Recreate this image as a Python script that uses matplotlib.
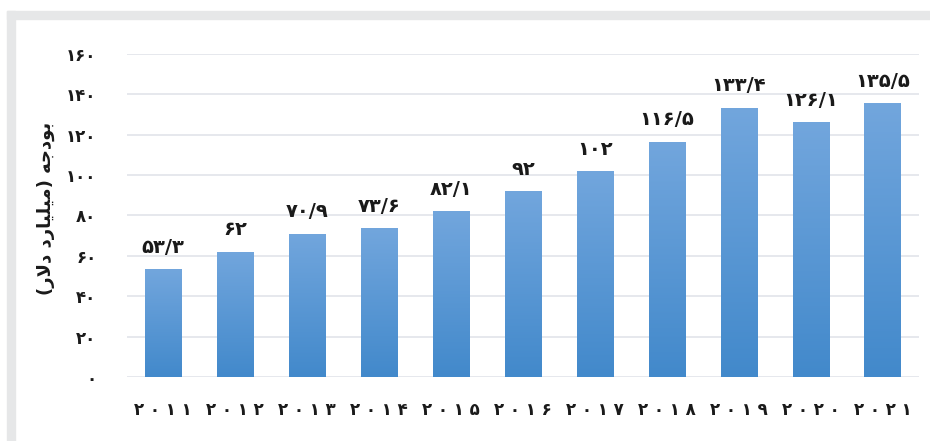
import numpy as np
import matplotlib
matplotlib.use("Agg")
import matplotlib.pyplot as plt
from matplotlib.patches import Rectangle

years = ["2011", "2012", "2013", "2014", "2015", "2016", "2017", "2018", "2019", "2020", "2021"]
budget = [53.3, 62, 70.9, 73.6, 82.1, 92, 102, 116.5, 133.4, 126.1, 135.5]
y_ticks = [0, 20, 40, 60, 80, 100, 120, 140, 160]

# "بودجه (میلیارد دلار)" in Arabic presentation forms, already in visual (left to right) order,
# since matplotlib does no shaping or bidi reordering on its own
y_label = ("(\uFEAD\uFEFB\uFEA9 \uFEA9\uFEAD\uFE8E\uFEF4\uFEE0\uFEF4\uFEE3) "
           "\uFEEA\uFE9F\uFEA9\uFEEE\uFE91")

FA_DIGITS = str.maketrans("0123456789.", "۰۱۲۳۴۵۶۷۸۹/")


def fa(value):
    s = "{:g}".format(value) if not isinstance(value, str) else value
    return s.translate(FA_DIGITS)


plt.rcParams['font.family'] = ['DejaVu Sans']

fig = plt.figure(figsize=(9.3, 4.41), dpi=100)
ax = fig.add_axes([0.1366, 0.1451, 0.988 - 0.1366, 0.8776 - 0.1451])

# light grey frame along top and left edges
frame_col = "#e6e7e8"
fig.patches.append(Rectangle((7 / 930, 1 - 19 / 441), 1, 8 / 441,
                             transform=fig.transFigure, color=frame_col, zorder=0))
fig.patches.append(Rectangle((7 / 930, 0), 8 / 930, 1 - 11 / 441,
                             transform=fig.transFigure, color=frame_col, zorder=0))

x = np.arange(len(years))
bars = ax.bar(x, budget, width=0.51, color="none", zorder=3)

# vertical gradient per bar: lighter at the top, darker at the bottom
top_col = np.array([114, 166, 221]) / 255
bot_col = np.array([66, 137, 203]) / 255
t = np.linspace(0, 1, 256)[:, None]
grad = (top_col * (1 - t) + bot_col * t)[:, None, :]
for b in bars:
    x0, w, h = b.get_x(), b.get_width(), b.get_height()
    im = ax.imshow(grad, extent=[x0, x0 + w, 0, h], origin="upper",
                   aspect="auto", zorder=3, interpolation="bilinear")
    im.set_clip_path(b)

for xi, v in zip(x, budget):
    ax.annotate(fa(v), (xi, v), xytext=(0, 9), textcoords="offset points",
                ha="center", va="bottom", fontsize=14, fontweight="bold",
                color="#1a1a1a", annotation_clip=False)

ax.set_xlim(-0.5, len(years) - 0.5)
ax.set_ylim(0, 160)
ax.set_yticks(y_ticks)
ax.set_yticklabels([fa(v) for v in y_ticks], fontsize=12, fontweight="bold", color="#1a1a1a")
ax.set_xticks(x)
ax.set_xticklabels([" ".join(fa(y)) for y in years], fontsize=12, fontweight="bold", color="#1a1a1a")
ax.tick_params(axis="y", length=0, pad=22)
ax.tick_params(axis="x", length=0, pad=17)

ax.grid(axis="y", color="#e2e4ea", linewidth=1.2, zorder=0)
ax.set_axisbelow(True)
for s in ax.spines.values():
    s.set_visible(False)

ax.set_ylabel(y_label, fontsize=13, fontweight="bold", color="#1a1a1a")
ax.yaxis.set_label_coords(-0.091, 0.523)

fig.savefig("out.png", dpi=100)
